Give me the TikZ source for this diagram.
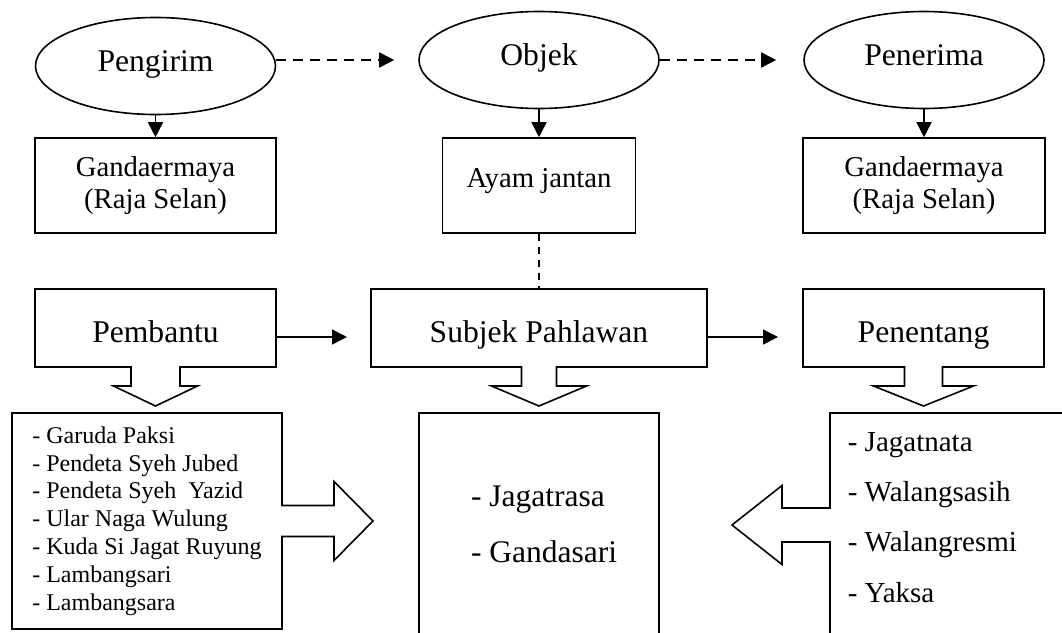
\documentclass[tikz,border=0pt]{standalone}
\usepackage{fontspec}
\setmainfont{Liberation Serif}
\usetikzlibrary{shapes.geometric,arrows.meta}

% box with a fat arrow going down: #1 node, #2 half stem, #3 half head
\def\calloutdown#1#2#3{%
  \draw[callout] (#1.north west) -- (#1.north east) -- (#1.south east)
    -- ([xshift=#2pt]#1.south) -- ++(0,19) -- ++({#3-#2},0)
    -- ([yshift=-39pt]#1.south) -- ([xshift=-#3pt,yshift=-19pt]#1.south)
    -- ++({#3-#2},0) -- ([xshift=-#2pt]#1.south) -- (#1.south west) -- cycle;}

\begin{document}
\begin{tikzpicture}[x=1pt, y=-1pt, line width=1.6pt,
    bulat/.style={ellipse, draw, minimum width=240pt, minimum height=97pt,
      inner sep=0pt, font=\fontsize{31.6}{36}\selectfont,
      text height=20pt, text depth=9pt},
    kotak/.style={rectangle, draw, minimum height=95pt, inner sep=0pt,
      align=center, font=\fontsize{28.7}{32}\selectfont},
    kotakpanah/.style={rectangle, minimum height=78pt, inner sep=0pt,
      outer sep=0pt, font=\fontsize{31.6}{36}\selectfont,
      text height=30pt, text depth=2pt},
    callout/.style={draw, line join=miter},
    panah/.style={-{Triangle[length=15pt,width=15pt]}},
    putus/.style={dash pattern=on 10pt off 7pt},
    garisputus/.style={line width=1.2pt, dash pattern=on 7pt off 6pt}]
  \useasboundingbox (0,0) rectangle (1062,632);
  \clip (0,0) rectangle (1062,632);

  % actants on top
  \foreach \nama/\x/\y/\teks in {
      pengirim/155.5/66/Pengirim,
      objek/539/60/Objek,
      penerima/924/60/Penerima
    } {
      \node[bulat] (\nama) at (\x,\y) {\teks};
    };
  \node[kotak, minimum width=241pt] (gandaKiri) at (155.5,185.5)
    {Gandaermaya\\(Raja Selan)};
  \node[kotak, minimum width=193pt, text depth=16pt] (ayam) at (539,185.5)
    {Ayam jantan};
  \node[kotak, minimum width=242pt] (gandaKanan) at (924,185.5)
    {Gandaermaya\\(Raja Selan)};

  \draw[panah] (pengirim) -- (gandaKiri);
  \draw[panah] (objek) -- (ayam);
  \draw[panah] (penerima) -- (gandaKanan);
  \draw[putus, panah, shorten >=24pt] (pengirim.east |- objek.west) -- (objek.west);
  \draw[putus, panah, shorten >=27pt] (objek.east) -- (penerima.west);

  % middle row with down callouts
  \foreach \nama/\x/\w/\batang/\ujung/\teks in {
      pembantu/155.5/241/24.5/42/Pembantu,
      subjek/539/336/17.5/47.5/Subjek Pahlawan,
      penentang/923.5/241/19/50/Penentang
    } {
      \node[kotakpanah, minimum width=\w pt] (\nama) at (\x,328) {\teks};
      \calloutdown{\nama}{\batang}{\ujung}
    };

  \draw[garisputus] (ayam) -- (subjek);
  \draw[panah, shorten >=24pt] ([yshift=-9pt]pembantu.east) -- ([yshift=-9pt]subjek.west);
  \draw[panah, shorten >=25pt] ([yshift=-9pt]subjek.east) -- ([yshift=-9pt]penentang.west);

  % bottom row
  \node[rectangle, outer sep=0pt, inner sep=0pt, minimum width=270pt,
    minimum height=216pt, align=left, font=\fontsize{24}{27.8}\selectfont]
    (kiri) at (147,521) {- Garuda Paksi\\- Pendeta Syeh Jubed\\
      - Pendeta Syeh\ \ Yazid\\- Ular Naga Wulung\\- Kuda Si Jagat Ruyung\\
      - Lambangsari\\- Lambangsara};
  \draw[callout] (kiri.north west) -- (kiri.north east) -- ([yshift=15.5pt]kiri.east)
    -- ++(52,0) -- ++(0,-24) -- ([xshift=91pt]kiri.east)
    -- ([xshift=52pt,yshift=-39.5pt]kiri.east) -- ++(0,-24)
    -- ([yshift=-15.5pt]kiri.east) -- (kiri.south east) -- (kiri.south west) -- cycle;

  \node[draw, minimum width=240pt, minimum height=230pt] (tengah) at (539,528) {};
  \node[anchor=base west, inner sep=0pt, align=left,
    font=\fontsize{31.5}{56}\selectfont] (pahlawan)
    at ([xshift=52pt,yshift=-150pt]tengah.north west) {- Jagatrasa\\- Gandasari};

  \node[rectangle, outer sep=0pt, minimum width=250pt, minimum height=224pt]
    (kanan) at (955,525) {};
  \draw[callout] (kanan.north east) -- (kanan.north west) -- ([yshift=17pt]kanan.west)
    -- ++(-48,0) -- ++(0,-22.5) -- ([xshift=-98pt]kanan.west)
    -- ([xshift=-48pt,yshift=-39.5pt]kanan.west) -- ++(0,-22.5)
    -- ([yshift=-17pt]kanan.west) -- (kanan.south west) -- (kanan.south east) -- cycle;
  \node[anchor=base west, inner sep=0pt, align=left,
    font=\fontsize{29}{50.3}\selectfont] (lawan)
    at ([xshift=17pt,yshift=-189pt]kanan.north west)
    {- Jagatnata\\- Walangsasih\\- Walangresmi\\- Yaksa};
\end{tikzpicture}
\end{document}
